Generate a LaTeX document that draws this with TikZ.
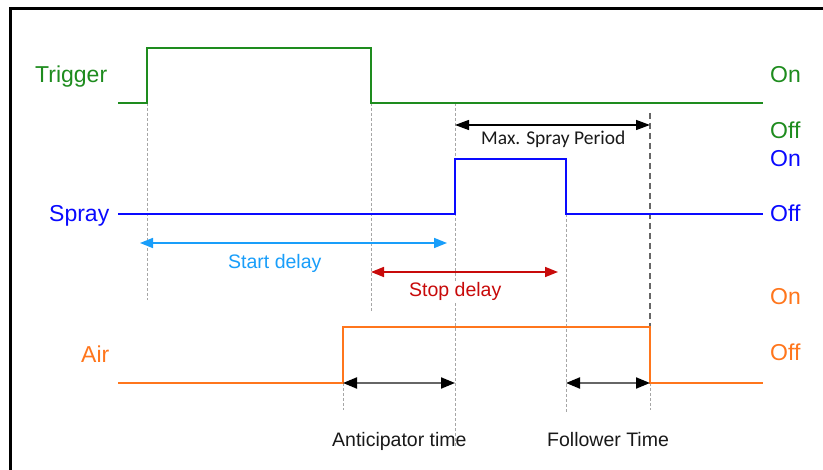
\documentclass[tikz,border=0pt]{standalone}
\usepackage{fontspec}
\setmainfont{Liberation Sans}
\newfontfamily\calfont{Carlito}
\usetikzlibrary{arrows.meta}
\definecolor{trg}{RGB}{30,140,30}
\definecolor{spr}{RGB}{10,10,255}
\definecolor{air}{RGB}{255,118,28}
\definecolor{lblue}{RGB}{25,158,250}
\definecolor{dred}{RGB}{200,10,10}
\definecolor{txt}{RGB}{25,25,25}
\begin{document}
\begin{tikzpicture}[x=1bp,y=-1bp,
  lbl/.style={anchor=base west, inner sep=0pt, font=\fontsize{23bp}{27bp}\selectfont},
  ann/.style={anchor=base west, inner sep=0pt, font=\fontsize{19.5bp}{23bp}\selectfont},
  sig/.style={line width=2.6bp, line join=miter},
  guide/.style={draw=black!35, line width=0.9bp, dash pattern=on 3bp off 2bp},
  guidedark/.style={draw=black!60, line width=1.4bp, dash pattern=on 6bp off 4bp},
  tip/.style={Triangle[length=13bp,width=10bp]},
  dim/.style={line width=1.6bp, {Triangle[length=13bp,width=10bp]}-{Triangle[length=13bp,width=10bp]}},
]
\useasboundingbox (0,0) rectangle (823,470);
\fill[white] (0,0) rectangle (823,470);
% frame
\draw[line width=2.7bp] (10.3,470) -- (10.3,8.7) -- (823,8.7);

% waveform coordinates
\coordinate (t0) at (118,103); \coordinate (t1) at (147,103); \coordinate (t2) at (147,48);
\coordinate (t3) at (371,48); \coordinate (t4) at (371,103); \coordinate (t5) at (763,103);
\coordinate (s0) at (118,214); \coordinate (s1) at (455,214); \coordinate (s2) at (455,159);
\coordinate (s3) at (566,159); \coordinate (s4) at (566,214); \coordinate (s5) at (763,214);
\coordinate (a0) at (118,383); \coordinate (a1) at (343,383); \coordinate (a2) at (343,327);
\coordinate (a3) at (650,327); \coordinate (a4) at (650,383); \coordinate (a5) at (763,383);

% guide end points
\coordinate (g1) at (147,300);
\coordinate (g2) at (371,313);
\coordinate (g3a) at (455,103); \coordinate (g3) at (455,448);
\coordinate (g4) at (566,412);
\coordinate (g5) at (343,410);
\coordinate (g6a) at (650,113); \coordinate (g6) at (650,410);

% guides
\draw[guide] (t1) -- (g1);
\draw[guide] (t4) -- (g2);
\draw[guide] (g3a) -- (g3);
\draw[guide] (s4) -- (g4);
\draw[guide] (a1) -- (g5);
\draw[guidedark] (g6a) -- (a3);
\draw[guide] (a4) -- (g6);

% signals
\draw[sig, trg] (t0) -- (t1) -- (t2) -- (t3) -- (t4) -- (t5);
\draw[sig, spr] (s0) -- (s1) -- (s2) -- (s3) -- (s4) -- (s5);
\draw[sig, air] (a0) -- (a1) -- (a2) -- (a3) -- (a4) -- (a5);

% dimension arrows
\coordinate (m0) at (455,125); \coordinate (m1) at (650,125);
\draw[line width=1.3bp, black, {Triangle[length=14bp,width=10bp]}-{Triangle[length=14bp,width=10bp]}] (m0) -- (m1);
\coordinate (sd0) at (140,243); \coordinate (sd1) at (447,243);
\draw[dim, lblue] (sd0) -- (sd1);
\coordinate (pd0) at (371,272); \coordinate (pd1) at (558,272);
\draw[dim, dred] (pd0) -- (pd1);
\coordinate (an1) at (455,383);
\draw[line width=2bp, black!60, {Triangle[length=14bp,width=11bp,black]}-{Triangle[length=14bp,width=11bp,black]}] (a1) -- (an1);
\coordinate (fo0) at (566,383);
\draw[line width=2bp, black!60, {Triangle[length=14bp,width=11bp,black]}-{Triangle[length=14bp,width=11bp,black]}] (fo0) -- (a4);

% labels
\node[lbl, text=trg] (ltrig) at (35,83) {Trigger};
\node[lbl, text=spr] (lspray) at (49,222) {Spray};
\node[lbl, text=air] (lair) at (81,363) {Air};
\node[lbl, text=trg] (ton) at (770,83) {On};
\node[lbl, text=trg] (toff) at (770,139) {Off};
\node[lbl, text=spr] (son) at (770,167) {On};
\node[lbl, text=spr] (soff) at (770,222) {Off};
\node[lbl, text=air] (aon) at (770,305) {On};
\node[lbl, text=air] (aoff) at (770,361) {Off};

\node[ann, text=txt, font=\calfont\fontsize{19.5bp}{23bp}\selectfont] (lmax) at (481,145) {Max. Spray Period};
\node[ann, text=lblue] (lstart) at (228,269) {Start delay};
\node[ann, text=dred, fill=white, inner sep=1bp] (lstop) at (408,297) {Stop delay};
\node[ann, text=txt] (lanti) at (332,446) {Anticipator time};
\node[ann, text=txt] (lfoll) at (547,446) {Follower Time};
\end{tikzpicture}
\end{document}
